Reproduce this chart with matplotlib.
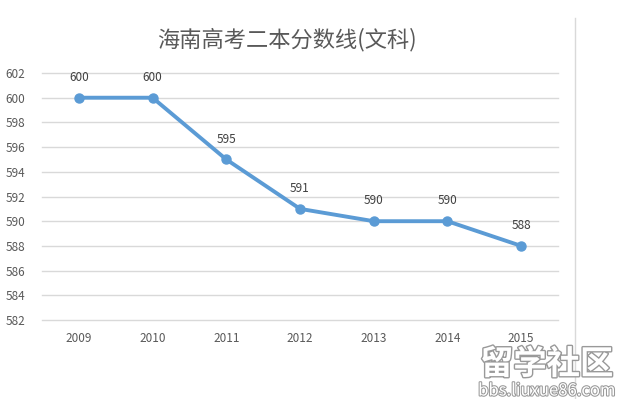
import matplotlib.pyplot as plt
import matplotlib.patheffects as pe
from matplotlib.lines import Line2D

plt.rcParams['font.family'] = ['Noto Sans CJK SC', 'DejaVu Sans']

# 数据
years = ['2009', '2010', '2011', '2012', '2013', '2014', '2015']
scores = [600, 600, 595, 591, 590, 590, 588]
yticks = [582, 584, 586, 588, 590, 592, 594, 596, 598, 600, 602]

fig = plt.figure(figsize=(6.27, 3.99), dpi=100)
ax = fig.add_axes([0.067, 0.198, 0.823, 0.619])

x = range(len(years))
ax.plot(x, scores, color='#5B9BD5', lw=2.8, marker='o', ms=6.5, zorder=3)
for xi, v in zip(x, scores):
    ax.annotate(str(v), (xi, v), xytext=(0, 10), textcoords='offset points',
                ha='center', va='bottom', fontsize=8.5, color='#404040')

ax.set_xlim(-0.5, len(years) - 0.5)
ax.set_ylim(582, 602)
ax.set_xticks(list(x))
ax.set_xticklabels(years)
ax.set_yticks(yticks)
ax.tick_params(length=0, labelsize=8.5, labelcolor='#595959')
ax.tick_params(axis='x', pad=9)
ax.tick_params(axis='y', pad=12)
ax.grid(axis='y', color='#d9d9d9', lw=1)
for gl in ax.get_ygridlines():
    gl.set_clip_on(False)
for s in ax.spines.values():
    s.set_visible(False)

fig.text(0.457, 0.9, '海南高考二本分数线(文科)', ha='center', va='center',
         fontsize=16, color='#595959')

# 右侧边框线
fig.add_artist(Line2D([0.917, 0.917], [0, 0.955], color='#d9d9d9', lw=1))

# 水印
fig.text(0.872, 0.086, '留学社区', ha='center', va='center', fontsize=24,
         color='white', fontweight='bold',
         path_effects=[pe.withStroke(linewidth=2, foreground='#999999')])
fig.text(0.872, 0.02, 'bbs.liuxue86.com', ha='center', va='center', fontsize=12,
         color='white',
         path_effects=[pe.withStroke(linewidth=1.5, foreground='#999999')])

fig.savefig('out.png', dpi=100)
